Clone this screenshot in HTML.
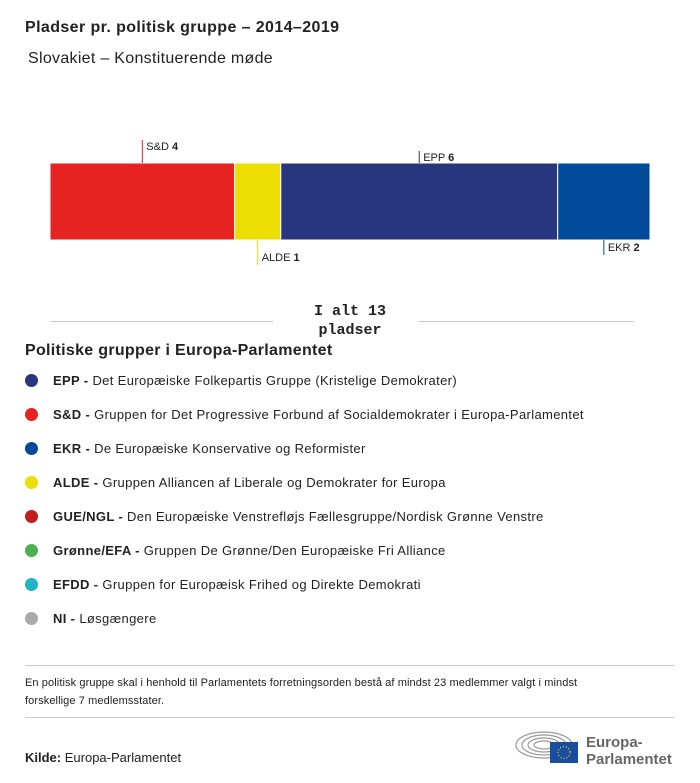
<!DOCTYPE html>
<html><head><meta charset="utf-8"><style>
body{margin:0;width:700px;height:783px;background:#fff;font-family:"Liberation Sans",sans-serif;color:#222;position:relative;overflow:hidden}
.abs{position:absolute}
.leg{position:absolute;left:25px;font-size:13px;display:flex;align-items:center;letter-spacing:0.35px}
.leg .dot{width:13px;height:13px;border-radius:50%;margin-right:15px}
</style></head><body>
<div class="abs" style="left:25px;top:19px;font-size:16px;font-weight:bold;letter-spacing:0.4px">Pladser pr. politisk gruppe – 2014–2019</div>
<div class="abs" style="left:28px;top:50px;font-size:16px;letter-spacing:0.3px">Slovakiet – Konstituerende møde</div>
<svg class="abs" style="left:0;top:0" width="700" height="345" id="chart"></svg>
<div class="abs" style="left:280px;top:302px;width:140px;text-align:center;font-family:'Liberation Mono',monospace;font-weight:bold;font-size:15px;line-height:19px">I alt 13<br>pladser</div>
<div class="abs" style="left:50px;top:321px;width:223px;border-top:1px solid #ccc"></div>
<div class="abs" style="left:418px;top:321px;width:216px;border-top:1px solid #ccc"></div>
<div class="abs" style="left:25px;top:342px;font-size:16px;font-weight:bold;letter-spacing:0.3px">Politiske grupper i Europa-Parlamentet</div>
<div class="leg" style="top:373px"><span class="dot" style="background:#283680"></span><b>EPP -&nbsp;</b>Det Europæiske Folkepartis Gruppe (Kristelige Demokrater)</div>
<div class="leg" style="top:407px"><span class="dot" style="background:#e52422"></span><b>S&amp;D -&nbsp;</b>Gruppen for Det Progressive Forbund af Socialdemokrater i Europa-Parlamentet</div>
<div class="leg" style="top:441px"><span class="dot" style="background:#004a99"></span><b>EKR -&nbsp;</b>De Europæiske Konservative og Reformister</div>
<div class="leg" style="top:475px"><span class="dot" style="background:#ebde00"></span><b>ALDE -&nbsp;</b>Gruppen Alliancen af Liberale og Demokrater for Europa</div>
<div class="leg" style="top:509px"><span class="dot" style="background:#c21e1e"></span><b>GUE/NGL -&nbsp;</b>Den Europæiske Venstrefløjs Fællesgruppe/Nordisk Grønne Venstre</div>
<div class="leg" style="top:543px"><span class="dot" style="background:#4caf50"></span><b>Grønne/EFA -&nbsp;</b>Gruppen De Grønne/Den Europæiske Fri Alliance</div>
<div class="leg" style="top:577px"><span class="dot" style="background:#1eb5c4"></span><b>EFDD -&nbsp;</b>Gruppen for Europæisk Frihed og Direkte Demokrati</div>
<div class="leg" style="top:611px"><span class="dot" style="background:#aaa"></span><b>NI -&nbsp;</b>Løsgængere</div>
<div class="abs" style="left:25px;top:665px;width:650px;border-top:1px solid #ccc"></div>
<div class="abs" style="left:25px;top:674px;width:640px;font-size:11px;line-height:18px;letter-spacing:0.1px">En politisk gruppe skal i henhold til Parlamentets forretningsorden bestå af mindst 23 medlemmer valgt i mindst<br>forskellige 7 medlemsstater.</div>
<div class="abs" style="left:25px;top:717px;width:650px;border-top:1px solid #ccc"></div>
<div class="abs" style="left:25px;top:750px;font-size:13px"><b>Kilde:</b> Europa-Parlamentet</div>
<svg class="abs" style="left:514px;top:728px" width="70" height="36">
<g fill="none" stroke="#999" stroke-width="1.2"><ellipse cx="30" cy="17" rx="28" ry="13"/><ellipse cx="30" cy="17" rx="22" ry="10"/><ellipse cx="30" cy="17" rx="16" ry="7"/><ellipse cx="30" cy="17" rx="10" ry="4"/></g>
<rect x="36" y="14" width="28" height="21" fill="#1a4da0"/><circle cx="50" cy="24.5" r="6" fill="none" stroke="#fd0" stroke-width="1.2" stroke-dasharray="1 2"/></svg>
<div class="abs" style="left:586px;top:734px;font-size:15px;font-weight:bold;color:#666;line-height:17px">Europa-<br>Parlamentet</div>
<script>
const groups=["S&D","ALDE","EPP","EKR"];
const seats=[4,1,6,2];
const colors=["#e52422","#ebde00","#283680","#004a99"];
const labelSide=["top","bottom","top","bottom"];
const svg=document.getElementById('chart');
const NS="http://www.w3.org/2000/svg";
const total=seats.reduce((a,b)=>a+b,0);
const x0=50,x1=650,y0=163,y1=240;
const xs=v=>x0+(x1-x0)*v/total;
let cum=0;
groups.forEach((g,i)=>{
 const a=xs(cum),b=xs(cum+seats[i]);cum+=seats[i];
 const r=document.createElementNS(NS,'rect');
 r.setAttribute('x',a);r.setAttribute('y',y0);r.setAttribute('width',b-a);r.setAttribute('height',y1-y0);
 r.setAttribute('fill',colors[i]);r.setAttribute('stroke','#fff');r.setAttribute('stroke-width','1');
 
 
 svg.appendChild(r);
 const m=(a+b)/2;
 const top=labelSide[i]==="top";
 const len=(i%2===0)?(i===0?23:12):(i===1?25:15);
 const l=document.createElementNS(NS,'line');
 l.setAttribute('x1',m);l.setAttribute('x2',m);
 l.setAttribute('y1',top?y0-len:y1);l.setAttribute('y2',top?y0:y1+len);
 l.setAttribute('stroke',colors[i]);l.setAttribute('stroke-width','1');
 
 
 svg.appendChild(l);
 const t=document.createElementNS(NS,'text');
 t.setAttribute('x',m+4);t.setAttribute('y',top?y0-len+10:y1+len-4);
 t.setAttribute('font-size','11');t.setAttribute('fill','#222');
 t.innerHTML=g.replace('&','&amp;')+' <tspan font-weight="bold">'+seats[i]+'</tspan>';
 
 
 svg.appendChild(t);
});
</script>
</body></html>
